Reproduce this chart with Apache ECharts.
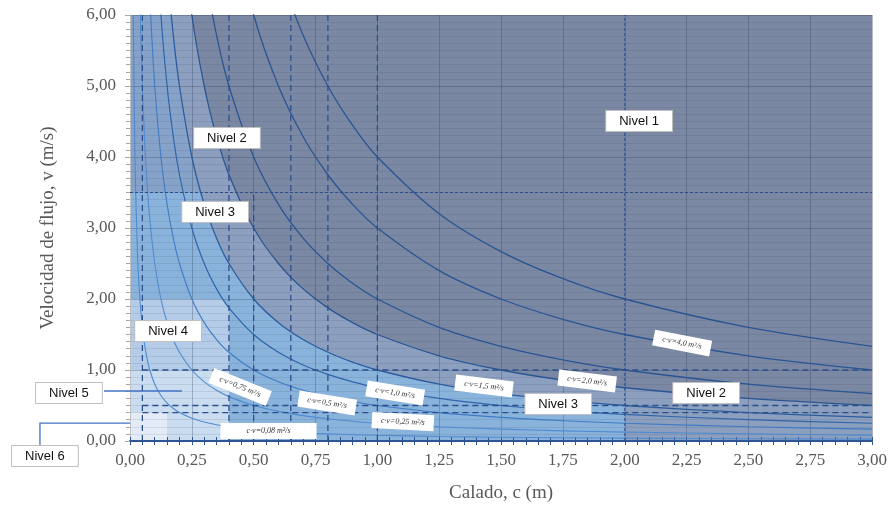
<!DOCTYPE html>
<html><head><meta charset="utf-8">
<script src="https://cdn.jsdelivr.net/npm/echarts@6/dist/echarts.min.js"></script>
<style>html,body{margin:0;padding:0;background:#fff}#c{width:890px;height:513px}</style>
</head><body><div id="c"></div>
<script>
// ---- data ----
const CALADO = [0.0133,0.02,0.03,0.04,0.05,0.06,0.07,0.08,0.1,0.125,0.15,0.175,0.2,0.25,0.3,0.35,0.4,0.5,0.6,0.7,0.8,0.9,1.0,1.25,1.5,1.75,2.0,2.5,3.0];
const V_008 = [6.0,4.0,2.667,2.0,1.6,1.333,1.143,1.0,0.8,0.64,0.533,0.457,0.4,0.32,0.267,0.229,0.2,0.16,0.133,0.114,0.1,0.089,0.08,0.064,0.053,0.046,0.04,0.032,0.027];
const V_025 = [null,12.5,8.333,6.25,5.0,4.167,3.571,3.125,2.5,2.0,1.667,1.429,1.25,1.0,0.833,0.714,0.625,0.5,0.417,0.357,0.313,0.278,0.25,0.2,0.167,0.143,0.125,0.1,0.083];
const V_050 = [null,null,null,12.5,10,8.333,7.143,6.25,5,4,3.333,2.857,2.5,2,1.667,1.429,1.25,1,0.833,0.714,0.625,0.556,0.5,0.4,0.333,0.286,0.25,0.2,0.167];
const V_075 = [null,null,null,null,null,null,10.714,9.375,7.5,6,5,4.286,3.75,3,2.5,2.143,1.875,1.5,1.25,1.071,0.938,0.833,0.75,0.6,0.5,0.429,0.375,0.3,0.25];
const V_100 = [null,null,null,null,null,null,null,null,10,8,6.667,5.714,5,4,3.333,2.857,2.5,2,1.667,1.429,1.25,1.111,1,0.8,0.667,0.571,0.5,0.4,0.333];
const V_150 = [null,null,null,null,null,null,null,null,null,null,10,8.571,7.5,6,5,4.286,3.75,3,2.5,2.143,1.875,1.667,1.5,1.2,1,0.857,0.75,0.6,0.5];
const V_200 = [null,null,null,null,null,null,null,null,null,null,null,null,10,8,6.667,5.714,5,4,3.333,2.857,2.5,2.222,2,1.6,1.333,1.143,1,0.8,0.667];
const V_300 = [null,null,null,null,null,null,null,null,null,null,null,null,null,null,10,8.571,7.5,6,5,4.286,3.75,3.333,3,2.4,2,1.714,1.5,1.2,1];
const V_400 = [null,null,null,null,null,null,null,null,null,null,null,null,null,null,null,null,10,8,6.667,5.714,5,4.444,4,3.2,2.667,2.286,2,1.6,1.333];

// hazard zones (polygons in c, v)
const ZONE_N1 = [[0,0],[0,6],[3,6],[3,0]];
const ZONE_N2 = [[0,0],[0,6],[0.25,6],[0.3,5],[0.375,4],[0.4286,3.5],[0.5,3],[0.6,2.5],[0.75,2],[0.857,1.75],[1,1.5],[1.2,1.25],[1.5,1],[1.75,0.857],[2,0.75],[2.5,0.6],[3,0.5],[3,0]];
const ZONE_N2B = [[0,3.5],[0,6],[0.1667,6],[0.2,5],[0.25,4],[0.2857,3.5]];
const ZONE_N3 = [[0,0],[0,3.5],[0.2857,3.5],[0.333,3],[0.4,2.5],[0.5,2],[0.571,1.75],[0.667,1.5],[0.8,1.25],[1,1],[1.25,0.8],[1.5,0.667],[1.75,0.571],[2,0.5],[2,0]];
const ZONE_N4 = [[0,0],[0,2],[0.375,2],[0.4,1.875],[0.4,0]];
const ZONE_N5 = [[0,0],[0,1],[0.4,1],[0.4,0]];
const ZONE_N6 = [[0,0],[0,0.4],[0.15,0.4],[0.15,0]];

// reference lines
const DASH_C_FULL = [0.05,0.4,0.65,0.8,1.0];
const DASH_C_LOW = [0.5];      // from 0 to 3.5
const DASH_C_FINE = [2.0];
const DASH_V = [1.0,0.5,0.4];  // from c=0.05 to 3
const DASH_V_FINE = [3.5];

// labels
const NIVEL_NAMES = ['Nivel 1','Nivel 2','Nivel 3','Nivel 4','Nivel 5','Nivel 6','Nivel 3','Nivel 2'];
const NIVEL_POS = [[2.058,4.507],[0.392,4.268],[0.344,3.225],[0.154,1.549],[-0.247,0.676],[-0.344,-0.211],[1.731,0.521],[2.329,0.676]];
const CV_NAMES = ['c·v=0,75 m²/s','c·v=0,5 m²/s','c·v=1,0 m²/s','c·v=0,25 m²/s','c·v=0,08 m²/s','c·v=1,5 m²/s','c·v=2,0 m²/s','c·v=4,0 m²/s'];
const CV_POS = [[0.445,0.761],[0.797,0.535],[1.072,0.676],[1.103,0.272],[0.56,0.141],[1.431,0.775],[1.848,0.845],[2.232,1.38]];
const CV_ROT = [-22,-9,-9,-3,0,-7,-7,-11];
const LEADER_N5 = [[-0.105,0.704],[0.21,0.704]];
const LEADER_N6 = [[-0.364,-0.056],[-0.364,0.253],[0,0.253]];

// ---- chart ----
const fmt = v => v.toFixed(2).replace('.', ',');
const zones = [
  {pts: ZONE_N1, color:'#7b88a4'},
  {pts: ZONE_N2, color:'#8c9fbe'},
  {pts: ZONE_N2B, color:'#86a2c9'},
  {pts: ZONE_N3, color:'#8ab3dc'},
  {pts: ZONE_N4, color:'#b4cce8'},
  {pts: ZONE_N5, color:'#cadcf0'},
  {pts: ZONE_N6, color:'#e2ebf6'}
];
const curves = [
  {v:V_008, color:'#4f8bd0', w:1.1},
  {v:V_025, color:'#4f8bd0', w:1.1},
  {v:V_050, color:'#3f7bc4', w:1.1},
  {v:V_075, color:'#2f65aa', w:1.2},
  {v:V_100, color:'#2c5c9e', w:1.3},
  {v:V_150, color:'#2a5592', w:1.3},
  {v:V_200, color:'#2a5592', w:1.3},
  {v:V_300, color:'#2a5592', w:1.3},
  {v:V_400, color:'#2a5592', w:1.3}
];
const leaders = [LEADER_N5, LEADER_N6];
const series = [];
series.push({
  type:'custom', z:1, silent:true,
  data: zones.map((z,i)=>[i,0]),
  renderItem:(params, api)=>{
    const z = zones[params.dataIndex];
    return {type:'polygon', z2: params.dataIndex,
      shape:{points: z.pts.map(p=>api.coord(p))},
      style:{fill:z.color}};
  }
});
curves.forEach(c=>{
  series.push({type:'line', z:4, symbol:'none', smooth:0.3, silent:true,
    data: CALADO.map((x,i)=>[x, c.v[i]]),
    lineStyle:{color:c.color, width:c.w}});
});
const dashed = (pts, w, t) => ({type:'line', z:4, symbol:'none', silent:true, data:pts,
  lineStyle:{color:'#2b4f8c', width:w, type:t}});
DASH_C_FULL.forEach(c=>series.push(dashed([[c,0],[c,6]],1.3,[6,4])));
DASH_C_LOW.forEach(c=>series.push(dashed([[c,0],[c,3.5]],1.3,[6,4])));
DASH_C_FINE.forEach(c=>series.push(dashed([[c,0],[c,6]],1,[3,2])));
DASH_V.forEach(v=>series.push(dashed([[0.05,v],[3,v]],1.3,[6,4])));
DASH_V_FINE.forEach(v=>series.push(dashed([[0,v],[3,v]],1,[3,2])));
series.push({
  type:'custom', z:5, silent:true, clip:false,
  data: leaders.map((l,i)=>[i,0]),
  renderItem:(params, api)=>({type:'polyline',
    shape:{points: leaders[params.dataIndex].map(p=>api.coord(p))},
    style:{stroke:'#4472c4', lineWidth:1.3, fill:null}})
});
series.push({type:'scatter', z:6, clip:false, silent:true, symbol:'circle', symbolSize:2,
  itemStyle:{color:'rgba(0,0,0,0)', opacity:1},
  data: CV_POS.map((p,i)=>({value:p, name:CV_NAMES[i], label:{rotate:CV_ROT[i], padding: i===4?[3,26]:[3,9]}})),
  label:{show:true, opacity:1, position:'inside', formatter:'{b}', backgroundColor:'#ffffff', color:'#333',
    fontFamily:'Liberation Serif', fontStyle:'italic', fontSize:8, lineHeight:10}});
series.push({type:'scatter', z:7, clip:false, silent:true, symbol:'circle', symbolSize:2,
  itemStyle:{color:'rgba(0,0,0,0)', opacity:1},
  data: NIVEL_POS.map((p,i)=>({value:p, name:NIVEL_NAMES[i]})),
  label:{show:true, opacity:1, position:'inside', formatter:'{b}', backgroundColor:'#ffffff', color:'#111',
    borderColor:'#bfbfbf', borderWidth:1, padding:[3,13,2,13],
    fontFamily:'Liberation Sans', fontSize:13, lineHeight:15}});

const chart = echarts.init(document.getElementById('c'), null, {renderer:'canvas'});
chart.setOption({
  animation:false,
  grid:{left:130, right:17, top:15, bottom:72},
  xAxis:[{
    type:'value', min:0, max:3, interval:0.25, z:3,
    name:'Calado, c (m)', nameLocation:'middle', nameGap:43,
    nameTextStyle:{fontFamily:'Liberation Serif', fontSize:19, color:'#595959'},
    axisLine:{show:true, onZero:false, lineStyle:{color:'#2f5597', width:2}},
    axisTick:{show:true, length:4, lineStyle:{color:'#2f5597'}},
    minorTick:{show:true, splitNumber:5, length:4, lineStyle:{color:'#2f5597'}},
    axisLabel:{formatter:fmt, fontFamily:'Liberation Serif', fontSize:17, color:'#595959', margin:11},
    splitLine:{show:true, lineStyle:{color:'rgba(40,50,80,0.28)', width:1}}
  },{
    type:'value', min:0, max:3, interval:0.25, z:3, position:'bottom', offset:0,
    axisLine:{show:false},
    axisTick:{show:true, inside:true, length:4, lineStyle:{color:'#2f5597'}},
    minorTick:{show:true, splitNumber:5, length:4, lineStyle:{color:'#2f5597'}},
    axisLabel:{show:false}, splitLine:{show:false}
  }],
  yAxis:{
    type:'value', min:0, max:6, interval:1, z:3,
    name:'Velocidad de flujo, v (m/s)', nameLocation:'middle', nameGap:72,
    nameTextStyle:{fontFamily:'Liberation Serif', fontSize:19, color:'#595959'},
    axisLine:{show:true, lineStyle:{color:'#bfbfbf'}},
    axisTick:{show:true, length:5, lineStyle:{color:'#a6a6a6'}},
    minorTick:{show:true, splitNumber:10, length:4, lineStyle:{color:'#a6a6a6'}},
    axisLabel:{formatter:fmt, fontFamily:'Liberation Serif', fontSize:17, color:'#595959', margin:14},
    splitLine:{show:true, lineStyle:{color:'rgba(40,50,80,0.28)', width:1}},
    minorSplitLine:{show:true, lineStyle:{color:'rgba(40,50,80,0.10)', width:1}}
  },
  series: series
});
</script></body></html>
